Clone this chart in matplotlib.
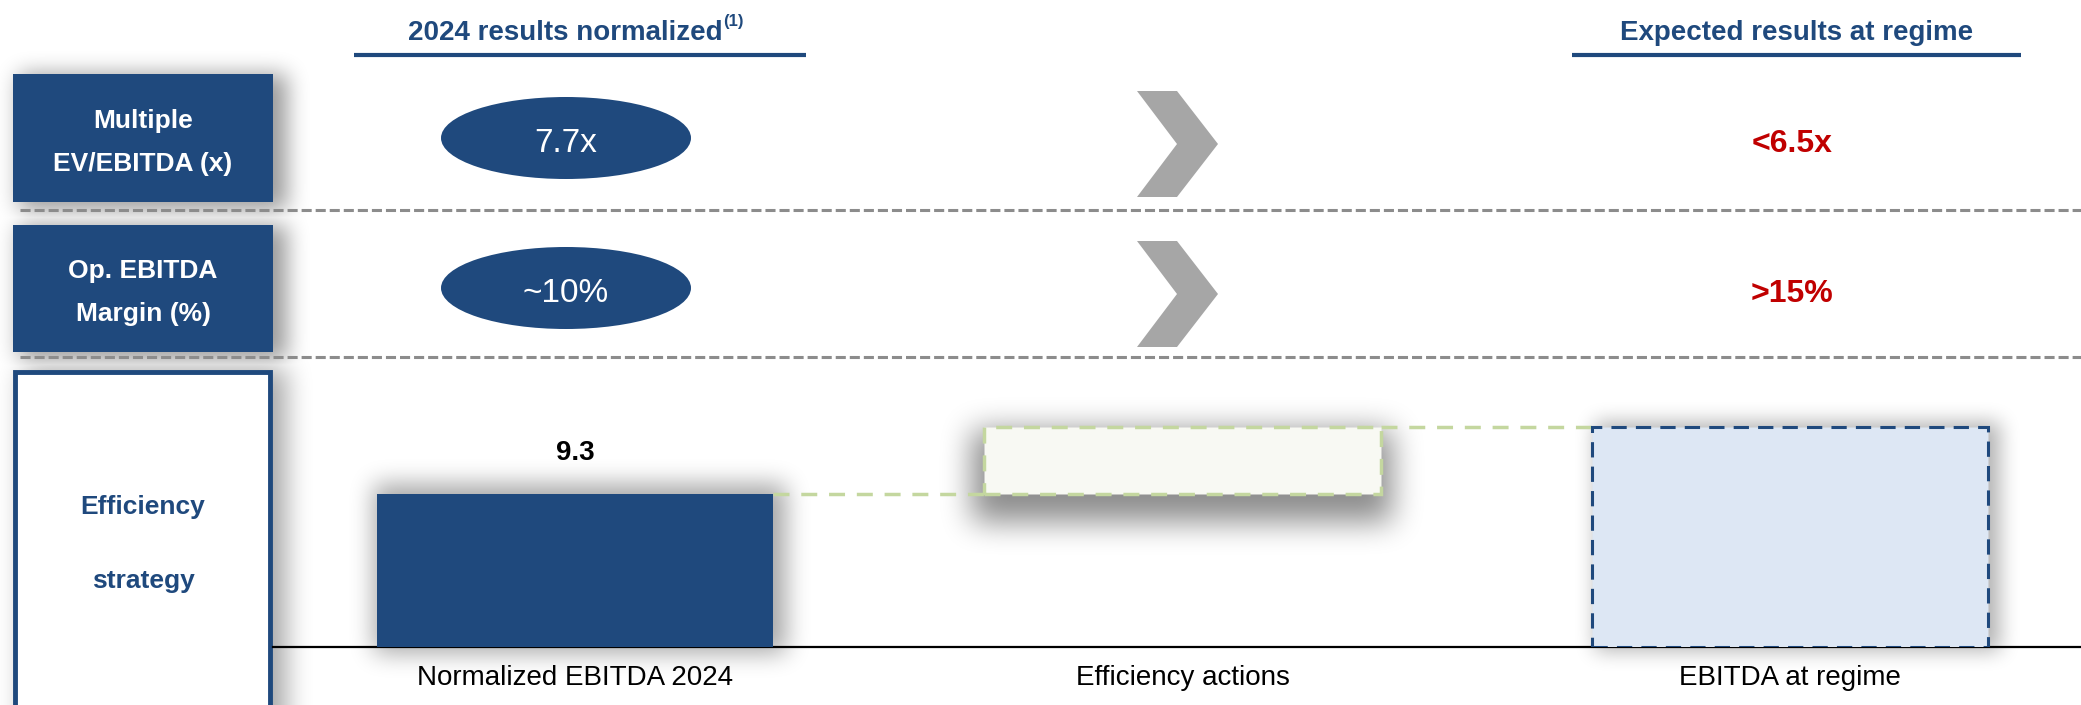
import numpy as np
import matplotlib
matplotlib.use("Agg")
import matplotlib.pyplot as plt
from matplotlib.patches import Rectangle, Ellipse, Polygon

plt.rcParams['font.family'] = ['Liberation Sans', 'DejaVu Sans']

W, H = 2081, 705
NAVY = '#1F497D'
RED = '#C00000'
GREEN = '#C4D79F'
GREEN_DASH = (0, (4.6, 3.4))

# KPI rows
row_labels = [("Multiple", "EV/EBITDA (x)"), ("Op. EBITDA", "Margin (%)")]
current_values = ["7.7x", "~10%"]
target_values = ["<6.5x", ">15%"]

# EBITDA bridge
categories = ["Normalized EBITDA 2024", "Efficiency actions", "EBITDA at regime"]
ebitda_2024 = 9.3
efficiency_gain = 4.1
ebitda_regime = 13.4


def blur(a, r, passes=3):
    k = 2 * r + 1
    for _ in range(passes):
        p = np.pad(a, ((r + 1, r), (0, 0)), mode='edge')
        c = np.cumsum(p, axis=0)
        a = (c[k:] - c[:-k]) / k
        p = np.pad(a, ((0, 0), (r + 1, r)), mode='edge')
        c = np.cumsum(p, axis=1)
        a = (c[:, k:] - c[:, :-k]) / k
    return a


def shadow(x0, y0, x1, y1, dx=0, dy=0, grow=4, r=8, strength=0.3):
    m = np.zeros((H, W))
    ya, yb = int(max(y0 + dy - grow, 0)), int(min(y1 + dy + grow, H))
    xa, xb = int(max(x0 + dx - grow, 0)), int(min(x1 + dx + grow, W))
    m[ya:yb, xa:xb] = 1.0
    return blur(m, r) * strength


fig = plt.figure(figsize=(W / 100, H / 100), dpi=100)
bg = fig.add_axes([0, 0, 1, 1])
bg.set_xlim(0, W)
bg.set_ylim(H, 0)
bg.axis('off')

# column headers
bg.text(723, 40, "2024 results normalized", ha='right', va='baseline',
        fontsize=20, fontweight='bold', color=NAVY)
bg.text(723, 26, "(1)", ha='left', va='baseline', fontsize=12,
        fontweight='bold', color=NAVY)
bg.plot([354, 806], [55, 55], color=NAVY, lw=3, solid_capstyle='butt')
bg.text(1797, 40, "Expected results at regime", ha='center', va='baseline',
        fontsize=20, fontweight='bold', color=NAVY)
bg.plot([1572, 2021], [55, 55], color=NAVY, lw=3, solid_capstyle='butt')

shadows = []
row_boxes = [(74, 202), (225, 352)]
row_mid = [138, 288]
for i, (top, bottom) in enumerate(row_boxes):
    bg.add_patch(Rectangle((13, top), 260, bottom - top, facecolor=NAVY,
                           edgecolor='none', zorder=3))
    shadows.append(shadow(13, top, 273, bottom, dx=10, dy=4, grow=4, r=10,
                          strength=0.4))
    cy = row_mid[i]
    bg.text(143, cy - 10, row_labels[i][0], ha='center', va='baseline',
            fontsize=19, fontweight='bold', color='white', zorder=4)
    bg.text(143, cy + 33, row_labels[i][1], ha='center', va='baseline',
            fontsize=19, fontweight='bold', color='white', zorder=4)

    bg.add_patch(Ellipse((566, cy), 250, 82, facecolor=NAVY,
                         edgecolor='none', zorder=3))
    bg.text(566, cy + 14, current_values[i], ha='center', va='baseline',
            fontsize=24, color='white', zorder=4)

    c = cy + 6
    bg.add_patch(Polygon([(1137, c - 53), (1177, c - 53), (1218, c),
                          (1177, c + 53), (1137, c + 53), (1177, c)],
                         closed=True, facecolor='#A6A6A6', edgecolor='none'))

    bg.text(1792, cy + 14, target_values[i], ha='center', va='baseline',
            fontsize=23, fontweight='bold', color=RED)

# dashed separators between the rows
for y in (210, 357):
    bg.plot([20, W], [y, y], color='#8C8C8C', lw=2.2,
            linestyle=(0, (3.3, 1.3)))

# efficiency strategy box
bg.add_patch(Rectangle((15, 372), 255, 360, facecolor='white',
                       edgecolor=NAVY, lw=3.5, zorder=3))
shadows.append(shadow(15, 372, 270, H + 20, dx=12, dy=0, grow=4, r=12,
                      strength=0.35))
bg.text(143, 514, "Efficiency", ha='center', va='baseline', fontsize=19,
        fontweight='bold', color=NAVY, zorder=4)
bg.text(143, 588, "strategy", ha='center', va='baseline', fontsize=19,
        fontweight='bold', color=NAVY, zorder=4)

# waterfall chart
ax = fig.add_axes([273 / W, 58 / H, (W - 273) / W, 0.35])
ax.patch.set_alpha(0)
ax.set_xlim(-0.497, 2.479)
ax.set_ylim(0, 15)
x = np.arange(len(categories))
bw = 0.652

b1 = ax.bar(x[0], ebitda_2024, width=bw, color=NAVY, zorder=3)
b2 = ax.bar(x[1], efficiency_gain, bottom=ebitda_2024, width=bw,
            color='#F8F9F3', edgecolor=GREEN, lw=2.5,
            linestyle=GREEN_DASH, zorder=3)
b3 = ax.bar(x[2], ebitda_regime, width=bw, color='#DDE7F4', edgecolor=NAVY,
            lw=2.2, linestyle=(0, (5, 3)), zorder=3)

ax.plot([x[0] + bw / 2, x[1] - bw / 2], [ebitda_2024, ebitda_2024],
        color=GREEN, lw=2.5, linestyle=GREEN_DASH, zorder=2)
ax.plot([x[1] + bw / 2, x[2] - bw / 2], [ebitda_regime, ebitda_regime],
        color=GREEN, lw=2.5, linestyle=GREEN_DASH, zorder=2)

ax.annotate(f"{ebitda_2024:.1f}", (x[0], ebitda_2024), xytext=(0, 24.5),
            textcoords='offset points', ha='center', va='baseline',
            fontsize=20, fontweight='bold', color='black')

ax.set_xticks(x, categories)
ax.tick_params(axis='x', length=0, pad=13, labelsize=20)
ax.set_yticks([])
for s in ('top', 'right', 'left'):
    ax.spines[s].set_visible(False)
ax.spines['bottom'].set_linewidth(1.6)
ax.spines['bottom'].set_color('black')

# soft drop shadows behind the bars
bar_shadow = [dict(dx=6, dy=-2, grow=8, r=11, strength=0.35),
              dict(dx=0, dy=16, grow=12, r=14, strength=0.45),
              dict(dx=8, dy=0, grow=4, r=9, strength=0.3)]
for bars, spec in zip((b1, b2, b3), bar_shadow):
    p = bars[0]
    (px0, py0), (px1, py1) = ax.transData.transform(
        [(p.get_x(), p.get_y()), (p.get_x() + p.get_width(),
                                  p.get_y() + p.get_height())])
    shadows.append(shadow(px0, H - py1, px1, H - py0, **spec))

alpha = np.clip(np.maximum.reduce(shadows), 0, 1)
rgba = np.zeros((H, W, 4))
rgba[..., 3] = alpha
bg.imshow(rgba, extent=(0, W, H, 0), interpolation='nearest', zorder=1,
          aspect='auto')

fig.savefig("out.png", dpi=100)
